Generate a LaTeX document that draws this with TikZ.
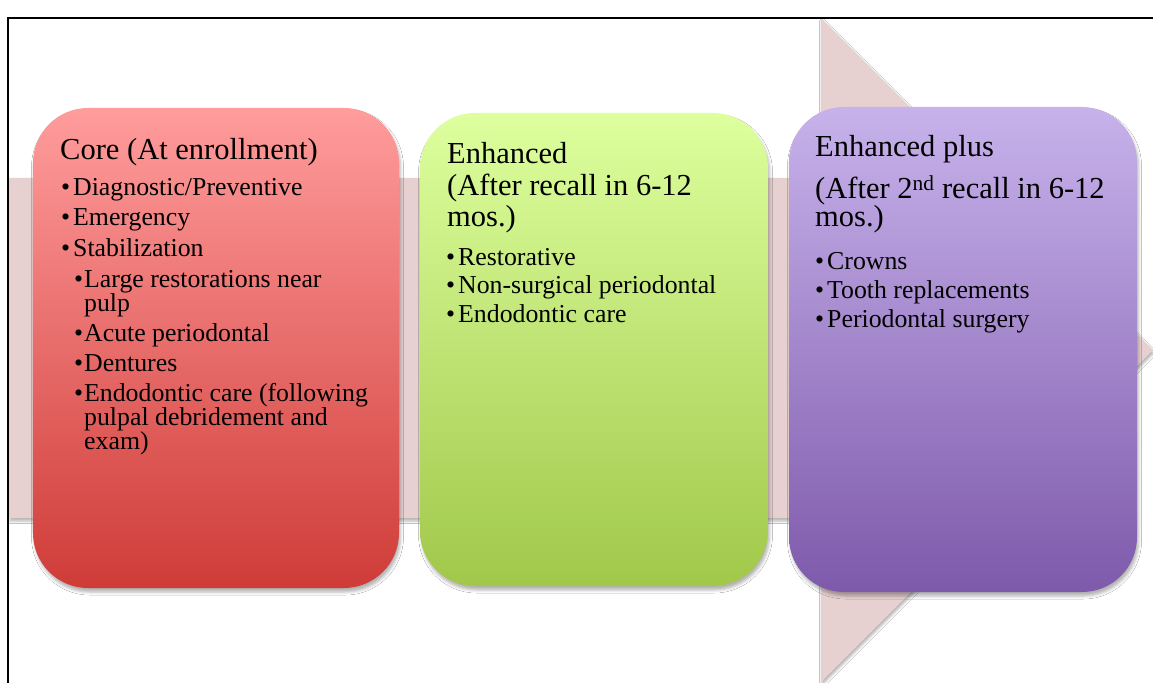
\documentclass[tikz,border=0pt]{standalone}
\usepackage{fontspec}
\setmainfont{Liberation Serif}
\usetikzlibrary{shadows.blur}
\definecolor{arrowpink}{RGB}{231,208,208}
\definecolor{redtop}{RGB}{255,156,156}
\definecolor{redbot}{RGB}{207,60,56}
\definecolor{greentop}{RGB}{221,255,158}
\definecolor{greenbot}{RGB}{161,200,74}
\definecolor{purptop}{RGB}{199,178,235}
\definecolor{purpbot}{RGB}{126,90,171}
\tikzset{
  card/.style={rectangle, rounded corners=55bp, inner sep=0pt, draw=none,
    blur shadow={shadow xshift=1.5bp, shadow yshift=-4bp, shadow blur radius=3bp, shadow opacity=30}},
  ttl/.style={anchor=base west, inner sep=0pt, font=\fontsize{30.5bp}{32bp}\selectfont},
  itm/.style={anchor=base west, inner sep=0pt, font=\fontsize{25.8bp}{27bp}\selectfont},
}
\newcommand\bA{\makebox[12bp][l]{•}}
\newcommand\bB{\makebox[10bp][l]{•}}
\begin{document}
\begin{tikzpicture}[x=1bp,y=-1bp]
\useasboundingbox (0,0) rectangle (1153,683);
\fill[white] (0,0) rectangle (1153,683);
% big arrow
\path[fill=arrowpink, blur shadow={shadow xshift=1bp, shadow yshift=-3bp, shadow blur radius=2.5bp, shadow opacity=30}]
  (9,178) -- (821,178) -- (821,18) -- (1153,350) -- (821,682) -- (821,518) -- (9,518) -- cycle;
% cards
\node[card, minimum width=366bp, minimum height=480bp, top color=redtop, bottom color=redbot] (red) at (216,348) {};
\node[card, minimum width=348bp, minimum height=473bp, top color=greentop, bottom color=greenbot] (green) at (594,349.5) {};
\node[card, minimum width=348bp, minimum height=485bp, top color=purptop, bottom color=purpbot] (purple) at (963,349.5) {};
% red text
\node[ttl] (rt) at (60,160) {Core (At enrollment)};
\node[itm] (r1) at (61,196) {\bA Diagnostic/Preventive};
\node[itm] (r2) at (61,226) {\bA Emergency};
\node[itm] (r3) at (61,256) {\bA Stabilization};
\node[itm] (r4) at (74,287) {\bB Large restorations near};
\node[itm] (r4b) at (84,311) {pulp};
\node[itm] (r5) at (74,341) {\bB Acute periodontal};
\node[itm] (r6) at (74,371) {\bB Dentures};
\node[itm] (r7) at (74,401) {\bB Endodontic care (following};
\node[itm] (r7b) at (84,425) {pulpal debridement and};
\node[itm] (r7c) at (84,449) {exam)};
% green text
\node[ttl] (gt1) at (447,164) {Enhanced};
\node[ttl] (gt2) at (447,196) {(After recall in 6-12};
\node[ttl] (gt3) at (447,227) {mos.)};
\node[itm] (g1) at (446,265) {\bA Restorative};
\node[itm] (g2) at (446,293) {\bA Non-surgical periodontal};
\node[itm] (g3) at (446,322) {\bA Endodontic care};
% purple text
\node[ttl] (pt1) at (815,157) {Enhanced plus};
\node[ttl] (pt2) at (815,199) {(After 2\textsuperscript{nd} recall in 6-12};
\node[ttl] (pt3) at (815,227) {mos.)};
\node[itm] (p1) at (815,269) {\bA Crowns};
\node[itm] (p2) at (815,298) {\bA Tooth replacements};
\node[itm] (p3) at (815,327) {\bA Periodontal surgery};
% frame
\draw[line width=2bp] (8,684) -- (8,18) -- (1154,18);
\end{tikzpicture}
\end{document}
